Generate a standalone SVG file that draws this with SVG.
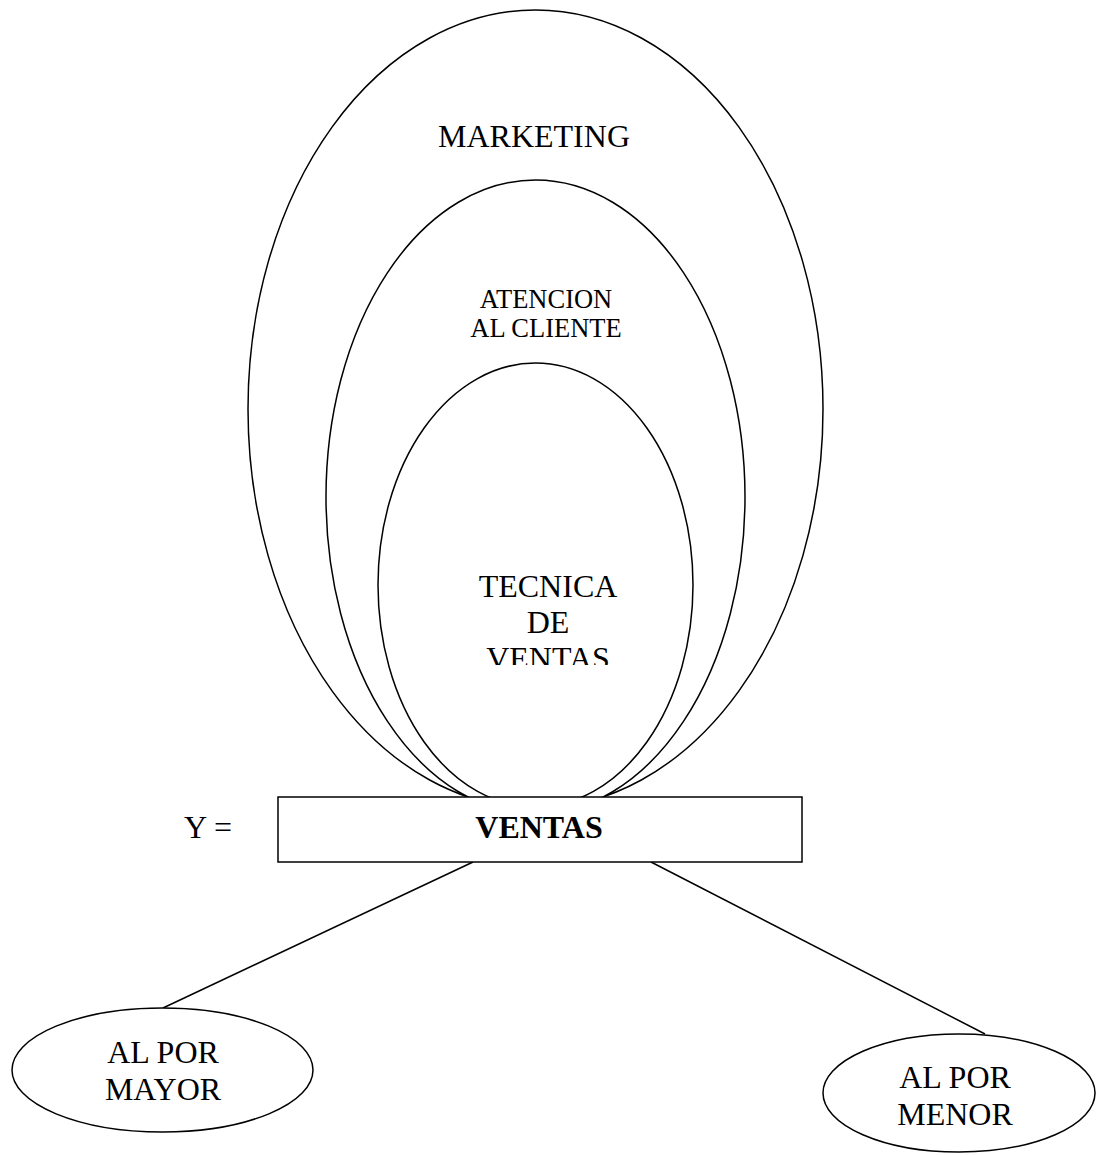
<svg xmlns="http://www.w3.org/2000/svg" width="1096" height="1155" viewBox="0 0 1096 1155">
<style>
.s{fill:#fff;stroke:#000;stroke-width:1.5}
.t{font-family:"Liberation Serif","Times New Roman",serif;fill:#000;text-anchor:middle}
</style>
<defs>
<clipPath id="clipTec"><rect x="470" y="560" width="160" height="105"/></clipPath>
</defs>
<rect width="1096" height="1155" fill="#fff"/>
<g id="marketing">
<ellipse class="s" cx="535.5" cy="409" rx="287.5" ry="399"/>
<text class="t" x="534" y="147" font-size="32">MARKETING</text>
</g>
<g id="atencion">
<ellipse class="s" cx="535.5" cy="497" rx="209.5" ry="317"/>
<text class="t" x="546" y="308" font-size="26.5">ATENCION</text>
<text class="t" x="546" y="337" font-size="26.5">AL CLIENTE</text>
</g>
<g id="tecnica">
<ellipse class="s" cx="535.5" cy="585" rx="157.5" ry="222"/>
<g clip-path="url(#clipTec)">
<text class="t" x="548" y="597" font-size="32">TECNICA</text>
<text class="t" x="548" y="633" font-size="32">DE</text>
<text class="t" x="548" y="669" font-size="32">VENTAS</text>
</g>
</g>
<g id="connectors">
<line x1="473" y1="862" x2="163" y2="1008" stroke="#000" stroke-width="1.5"/>
<line x1="651" y1="862" x2="985" y2="1034" stroke="#000" stroke-width="1.5"/>
</g>
<g id="ventas">
<rect class="s" x="278" y="797" width="524" height="65"/>
<text class="t" x="539" y="838" font-size="32" font-weight="bold">VENTAS</text>
</g>
<g id="y-label">
<text class="t" x="208" y="838" font-size="32">Y =</text>
</g>
<g id="mayor">
<ellipse class="s" cx="162.5" cy="1070" rx="150.5" ry="62"/>
<text class="t" x="163" y="1063" font-size="32">AL POR</text>
<text class="t" x="163" y="1100" font-size="32">MAYOR</text>
</g>
<g id="menor">
<ellipse class="s" cx="959" cy="1093" rx="136" ry="59"/>
<text class="t" x="955" y="1088" font-size="32">AL POR</text>
<text class="t" x="955" y="1125" font-size="32">MENOR</text>
</g>
</svg>
